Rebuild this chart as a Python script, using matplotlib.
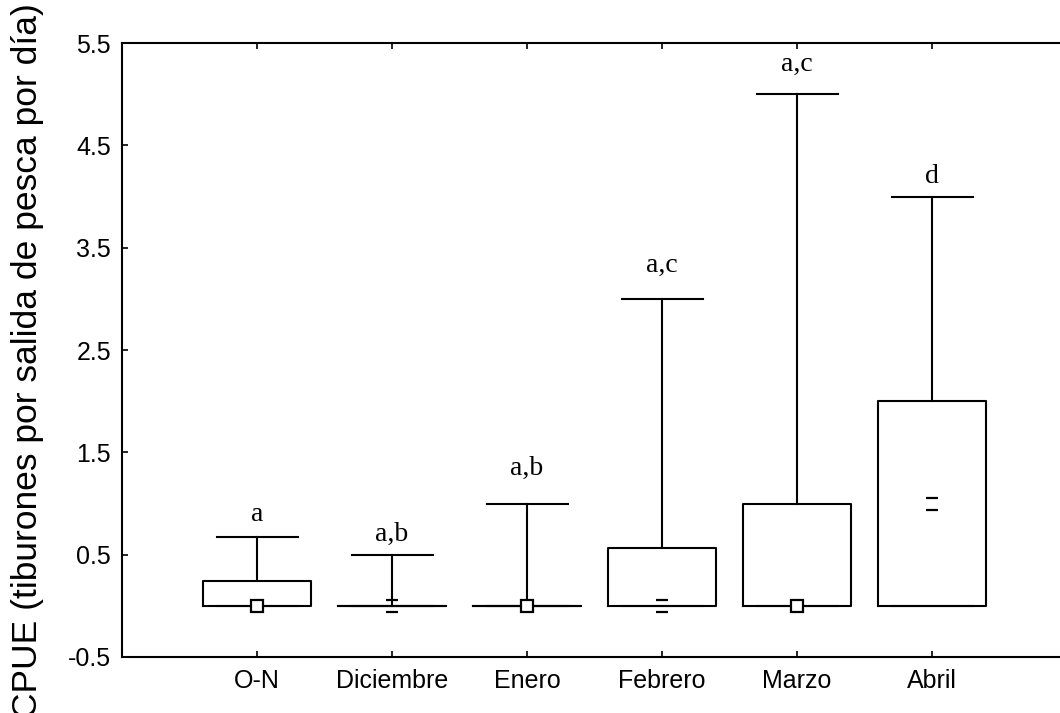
import matplotlib
matplotlib.use("Agg")
import matplotlib.pyplot as plt
from matplotlib.path import Path

# CPUE by month: box spans from the lower quartile to the upper quartile,
# whiskers reach the maximum, markers show the median.
months = ["O-N", "Diciembre", "Enero", "Febrero", "Marzo", "Abril"]
q1 = [0.0, 0.0, 0.0, 0.0, 0.0, 0.0]
q3 = [0.24, 0.0, 0.0, 0.57, 1.0, 2.0]
mins = [0.0, 0.0, 0.0, 0.0, 0.0, 0.0]
maxs = [0.67, 0.5, 1.0, 3.0, 5.0, 4.0]
medians = [0.0, 0.0, 0.0, 0.0, 0.0, 1.0]
groups = ["a", "a,b", "a,b", "a,c", "a,c", "d"]
group_label_y = [0.83, 0.63, 1.28, 3.26, 5.23, 4.13]
yticks = [-0.5, 0.5, 1.5, 2.5, 3.5, 4.5, 5.5]

W, H = 1060, 713
fig = plt.figure(figsize=(W / 100, H / 100), dpi=100)
ax = fig.add_axes([122 / W, 1 - 657 / H, 945 / W, 614 / H])

positions = list(range(1, len(months) + 1))
stats = [
    dict(med=m, q1=a, q3=b, whislo=lo, whishi=hi, label=name)
    for name, m, a, b, lo, hi in zip(months, medians, q1, q3, mins, maxs)
]
lw = 1.5
ax.bxp(
    stats,
    positions=positions,
    widths=0.8,
    capwidths=0.6,
    showfliers=False,
    boxprops=dict(color="black", linewidth=lw),
    whiskerprops=dict(color="black", linewidth=lw),
    capprops=dict(color="black", linewidth=lw),
    medianprops=dict(linewidth=0),
)

# median markers: a hollow square, or its top and bottom edges only
open_square = Path(
    [(-0.5, 0.5), (0.5, 0.5), (-0.5, -0.5), (0.5, -0.5)],
    [Path.MOVETO, Path.LINETO, Path.MOVETO, Path.LINETO],
)
for i, (x, m) in enumerate(zip(positions, medians)):
    if i in (0, 2, 4):
        ax.plot([x], [m], marker="s", markersize=8.5, markerfacecolor="white",
                markeredgecolor="black", markeredgewidth=1.6, zorder=5)
    else:
        ax.plot([x], [m], marker=open_square, markersize=8.5,
                markerfacecolor="none", markeredgecolor="black",
                markeredgewidth=1.6, linestyle="none", zorder=5)

for x, g, y in zip(positions, groups, group_label_y):
    ax.text(x, y, g, ha="center", va="baseline",
            family="Liberation Serif", fontsize=20)

ax.set_xlim(0, 7)
ax.set_ylim(-0.5, 5.5)
ax.set_yticks(yticks)
ax.set_yticklabels([f"{t:.1f}" for t in yticks])
ax.set_xticks(positions)
ax.set_xticklabels(months)

for s in ax.spines.values():
    s.set_linewidth(1.5)
ax.tick_params(direction="in", length=4, width=1.2, top=True, right=True,
               labelsize=18)
ax.tick_params(axis="x", pad=9)
ax.tick_params(axis="y", pad=8)
for lab in ax.get_xticklabels() + ax.get_yticklabels():
    lab.set_family("Liberation Sans")

fig.text(28 / W, 1 - 3 / H, "CPUE (tiburones por salida de pesca por día)",
         rotation=90, ha="center", va="top", family="Liberation Sans",
         fontsize=25.5)

fig.savefig("out.png", dpi=100)
